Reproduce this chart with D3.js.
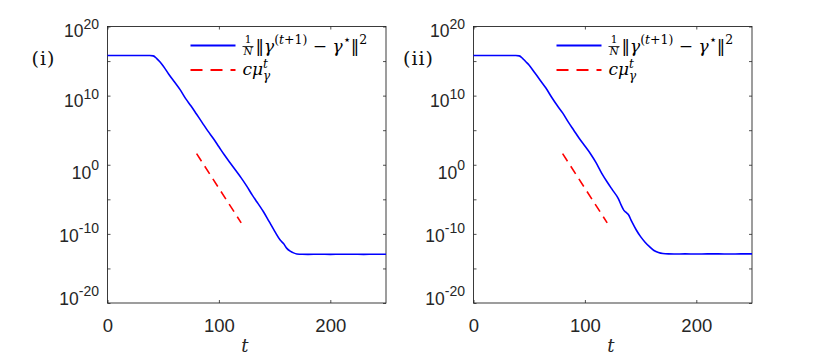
<!DOCTYPE html>
<html>
<head>
<meta charset="utf-8">
<script src="https://cdn.jsdelivr.net/npm/d3@7"></script>
<style>
  body { margin: 0; background: #fff; }
  svg { display: block; }
</style>
</head>
<body>
<div id="chart"></div>
<script>
// data (exponents are log10 of the error)
const panelLabels = ["(i)", "(ii)"];

const tLeft = [0, 10, 20, 30, 38, 41, 44, 47, 50, 55, 60, 65, 70, 75, 80, 85, 90, 95, 100, 105, 110, 115, 120, 125, 130, 134, 137, 140, 145, 150, 155, 158, 161, 164, 167, 170, 175, 180, 190, 200, 210, 220, 230, 240, 250];
const expLeft = [15.8, 15.8, 15.8, 15.8, 15.8, 15.75, 15.4, 14.9, 14.3, 13.1, 12.0, 10.9, 9.6, 8.5, 7.3, 6.1, 4.9, 3.8, 2.6, 1.4, 0.3, -0.8, -1.9, -3.1, -4.4, -5.35, -6.05, -6.8, -8.2, -9.6, -10.9, -11.4, -12.1, -12.5, -12.75, -12.9, -12.95, -12.96, -12.95, -12.96, -12.94, -12.95, -12.96, -12.95, -12.95];

const tRight = [0, 10, 20, 30, 38, 41, 44, 47, 50, 55, 60, 65, 70, 75, 80, 85, 90, 95, 100, 105, 110, 115, 120, 125, 130, 133, 135, 137, 139, 142, 146, 150, 154, 158, 162, 166, 170, 175, 180, 190, 200, 210, 220, 230, 240, 250];
const expRight = [15.8, 15.8, 15.8, 15.8, 15.8, 15.75, 15.4, 14.9, 14.4, 13.3, 12.2, 11.1, 9.8, 8.6, 7.5, 6.2, 5.0, 3.8, 2.7, 1.6, 0.3, -1.2, -2.5, -3.7, -4.9, -6.0, -6.6, -6.9, -7.2, -8.2, -9.4, -10.4, -11.2, -11.85, -12.4, -12.7, -12.85, -12.9, -12.91, -12.9, -12.91, -12.9, -12.9, -12.91, -12.9, -12.9];

// reference slope c*mu^t
const tRef = [80, 120];
const expRef = [1.6, -8.4];

const xTicks = [0, 100, 200];
const yTickExps = [20, 10, 0, -10, -20];
const yMinorExps = [15, 5, -5, -15];

const width = 830, height = 359;
const svg = d3.select("#chart").append("svg")
    .attr("width", width)
    .attr("height", height);

// per-label vertical nudge of the y tick labels (baseline below tick, px)
const yLabelShift = {"20": 10.7, "10": 11.6, "0": 14, "-10": 7.7, "-20": 1.7};
const serif = "'DejaVu Serif', 'Liberation Serif', serif";
const sans = "'Liberation Sans', Arial, sans-serif";

function drawPanel(left, label, labelX, tVals, eVals) {
    const plotW = 278.5, plotH = 276.5, top = 26.5;
    const g = svg.append("g").attr("transform", `translate(${left},${top})`);

    const x = d3.scaleLinear().domain([0, 250]).range([0, plotW]);
    const y = d3.scaleLog().domain([1e-20, 1e20]).range([plotH, 0]);

    const majorVals = yTickExps.map(e => Math.pow(10, e));
    const minorVals = yMinorExps.map(e => Math.pow(10, e));
    const allY = majorVals.concat(minorVals);

    // axes (ticks pointing in, MATLAB-style box)
    const axColor = "#262626";
    g.append("g")
        .call(d3.axisLeft(y).tickValues(allY).tickSize(-3).tickFormat(() => ""));
    g.append("g")
        .attr("transform", `translate(${plotW},0)`)
        .call(d3.axisRight(y).tickValues(allY).tickSize(-3).tickFormat(() => ""));
    const xb = g.append("g")
        .attr("transform", `translate(0,${plotH})`)
        .call(d3.axisBottom(x).tickValues(xTicks).tickSize(-3).tickFormat(d3.format("d")));
    g.append("g")
        .call(d3.axisTop(x).tickValues(xTicks).tickSize(-3).tickFormat(() => ""));
    g.selectAll(".domain").remove();
    g.selectAll(".tick line").attr("stroke", axColor).attr("stroke-width", 0.8);

    g.append("rect")
        .attr("x", 0).attr("y", 0)
        .attr("width", plotW).attr("height", plotH)
        .attr("fill", "none")
        .attr("stroke", axColor)
        .attr("stroke-width", 0.9);

    // x tick labels
    xb.selectAll(".tick text")
        .attr("y", 28.5).attr("dy", 0)
        .style("font-family", sans)
        .style("font-size", "18.5px")
        .attr("fill", axColor);

    // y tick labels 10^k
    g.selectAll(".ylab")
        .data(yTickExps)
        .join("text")
        .attr("class", "ylab")
        .attr("x", -8.5)
        .attr("y", d => y(Math.pow(10, d)) + yLabelShift[String(d)])
        .attr("text-anchor", "end")
        .attr("fill", axColor)
        .style("font-family", sans)
        .style("font-size", "17.5px")
        .each(function(d) {
            const t = d3.select(this);
            t.append("tspan").text("10");
            t.append("tspan").attr("dy", -8.6).style("font-size", "14px").text(String(d));
        });

    // x axis title
    g.append("text")
        .attr("x", plotW / 2 - 2)
        .attr("y", 325)
        .attr("text-anchor", "middle")
        .style("font-family", serif)
        .style("font-style", "italic")
        .style("font-size", "18px")
        .attr("fill", axColor)
        .text("t");

    // panel label
    g.append("text")
        .attr("x", labelX)
        .attr("y", 38.5)
        .attr("text-anchor", "middle")
        .style("font-family", serif)
        .style("font-size", "19px")
        .style("letter-spacing", "1px")
        .attr("fill", "#111")
        .text(label);

    // curves
    const line = d3.line()
        .x(d => x(d[0]))
        .y(d => y(Math.pow(10, d[1])))
        .curve(d3.curveMonotoneX);

    g.append("path")
        .datum(d3.zip(tVals, eVals))
        .attr("d", line)
        .attr("fill", "none")
        .attr("stroke", "#0000ff")
        .attr("stroke-width", 1.6);

    g.append("path")
        .datum(d3.zip(tRef, expRef))
        .attr("d", d3.line().x(d => x(d[0])).y(d => y(Math.pow(10, d[1]))))
        .attr("fill", "none")
        .attr("stroke", "#ff0000")
        .attr("stroke-width", 1.6)
        .attr("stroke-dasharray", "9,6");

    // legend
    const lg = g.append("g").attr("transform", "translate(83,0)");
    lg.append("line")
        .attr("x1", 0).attr("x2", 45)
        .attr("y1", 19).attr("y2", 19)
        .attr("stroke", "#0000ff").attr("stroke-width", 2);
    lg.append("line")
        .attr("x1", 0).attr("x2", 45)
        .attr("y1", 43.5).attr("y2", 43.5)
        .attr("stroke", "#ff0000").attr("stroke-width", 2)
        .attr("stroke-dasharray", "12,8");

    // 1/N fraction
    lg.append("text").attr("x", 57.5).attr("y", 16.5).attr("text-anchor", "middle")
        .style("font-family", serif).style("font-size", "10.5px").text("1");
    lg.append("line").attr("x1", 52).attr("x2", 63).attr("y1", 20).attr("y2", 20)
        .attr("stroke", "#000").attr("stroke-width", 0.8);
    lg.append("text").attr("x", 57.5).attr("y", 28.5).attr("text-anchor", "middle")
        .style("font-family", serif).style("font-size", "10.5px").style("font-style", "italic").text("N");

    const t1 = lg.append("text").attr("x", 65).attr("y", 25)
        .style("font-family", serif).style("font-size", "17px").attr("fill", "#000");
    t1.append("tspan").text("\u2016");
    t1.append("tspan").style("font-style", "italic").text("\u03b3");
    t1.append("tspan").attr("dy", -7.5).style("font-size", "12.5px").text("(");
    t1.append("tspan").style("font-size", "12.5px").style("font-style", "italic").text("t");
    t1.append("tspan").style("font-size", "12.5px").text("+1)");
    t1.append("tspan").attr("dy", 7.5).text(" \u2212 ");
    t1.append("tspan").style("font-style", "italic").text("\u03b3");
    t1.append("tspan").attr("dy", -7.5).style("font-size", "12.5px").text("\u22c6");
    t1.append("tspan").attr("dy", 7.5).text("\u2016");
    t1.append("tspan").attr("dy", -7.5).style("font-size", "12.5px").text("2");

    const t2 = lg.append("text").attr("x", 52).attr("y", 48.5)
        .style("font-family", serif).style("font-size", "17px").style("font-style", "italic").attr("fill", "#000");
    t2.append("tspan").text("c\u03bc");
    t2.append("tspan").attr("dy", -7.5).style("font-size", "12px").text("t");
    t2.append("tspan").attr("dx", -5).attr("dy", 12.5).style("font-size", "12px").text("\u03b3");
}

drawPanel(107.5, panelLabels[0], -64, tLeft, expLeft);
drawPanel(473.5, panelLabels[1], -55, tRight, expRight);
</script>
</body>
</html>
